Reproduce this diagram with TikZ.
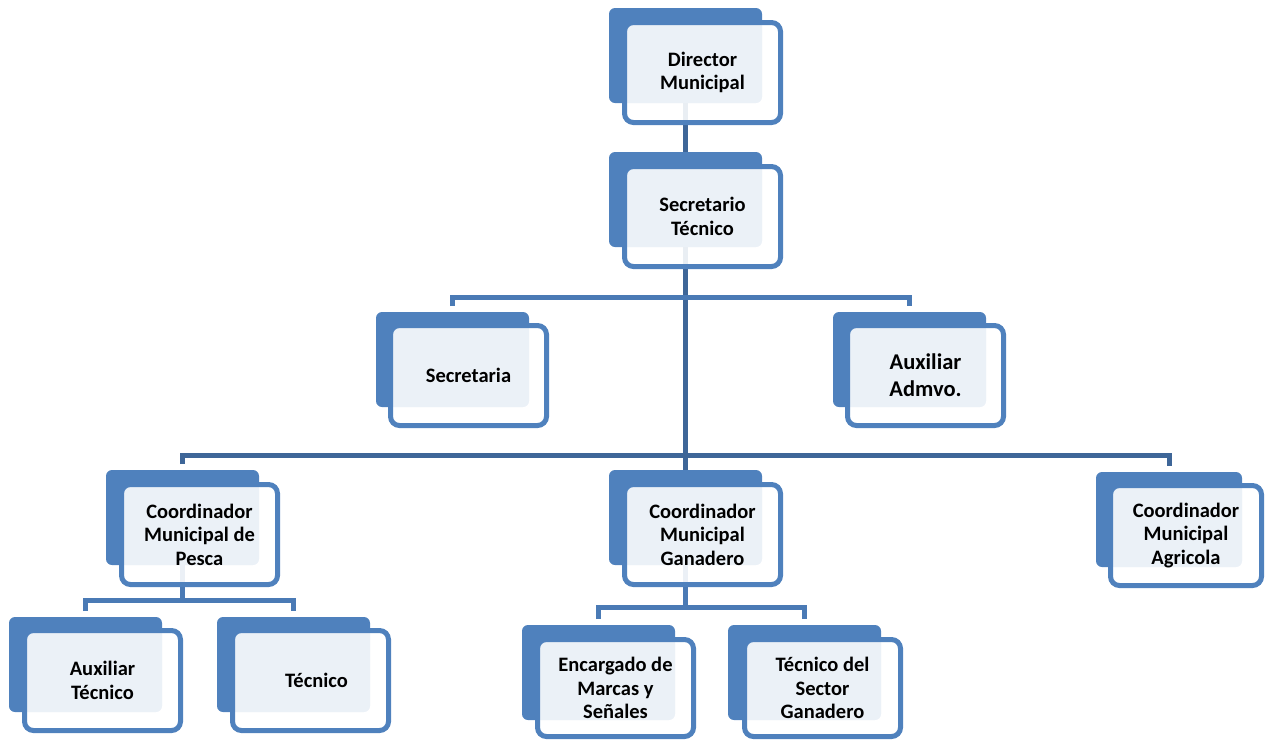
\documentclass[tikz,border=0pt]{standalone}
\usepackage{fontspec}
\setmainfont{Carlito}
\definecolor{boxblue}{HTML}{4F81BD}
\definecolor{trunkblue}{HTML}{3E6698}
\definecolor{linkblue}{HTML}{4A7AB5}
\tikzset{
  backbox/.style={fill=boxblue, rounded corners=6pt, minimum width=153pt,
    minimum height=95pt, inner sep=0pt, outer sep=0pt, anchor=north west},
  frontbox/.style={draw=boxblue, line width=5pt, fill=white, fill opacity=0.89,
    text opacity=1, rounded corners=9pt, minimum width=156pt, minimum height=100pt,
    inner sep=0pt, anchor=north west, align=center,
    font=\bfseries\fontsize{20.5}{23.5}\selectfont},
  bigtext/.style={font=\bfseries\fontsize{22.5}{27}\selectfont},
  trunk/.style={draw=trunkblue, line width=5pt},
  link/.style={draw=linkblue, line width=5pt},
  gap/.style={shorten <=6pt, shorten >=6pt},
}
\begin{document}
\begin{tikzpicture}[x=1pt, y=-1pt]
\useasboundingbox (0,0) rectangle (1267,740);

% solid back plates
\node[backbox] (dir-b)   at (609,8)   {};
\node[backbox] (sec-b)   at (609,152) {};
\node[backbox] (secr-b)  at (376,312) {};
\node[backbox] (aux-b)   at (833,312) {};
\node[backbox] (pesca-b) at (106,470) {};
\node[backbox] (gan-b)   at (609,470) {};
\node[backbox, minimum width=146pt] (agr-b) at (1096,472) {};
\node[backbox] (auxt-b)  at (9,617)   {};
\node[backbox] (tec-b)   at (217,617) {};
\node[backbox] (enc-b)   at (522,625) {};
\node[backbox] (tsg-b)   at (728,625) {};

% levels of the horizontal bars
\coordinate (lvl1) at (0,297);
\coordinate (lvl2) at (0,455);
\coordinate (lvl3) at (0,600);
\coordinate (lvl4) at (0,607);

% connectors
\draw[trunk] (dir-b) -- (sec-b);
\draw[trunk] (sec-b) -- (gan-b);
\draw[trunk, gap] (pesca-b) -- (pesca-b |- lvl2) -- (agr-b |- lvl2) -- (agr-b);
\draw[link, gap] (secr-b) -- (secr-b |- lvl1) -- (aux-b |- lvl1) -- (aux-b);
\draw[link] (pesca-b) -- (pesca-b |- lvl3);
\draw[link, gap] (auxt-b) -- (auxt-b |- lvl3) -- (tec-b |- lvl3) -- (tec-b);
\draw[link] (gan-b) -- (gan-b |- lvl4);
\draw[link, gap] (enc-b) -- (enc-b |- lvl4) -- (tsg-b |- lvl4) -- (tsg-b);

% front cards with the titles
\node[frontbox] (dir)   at (622,20)   {Director\\Municipal};
\node[frontbox] (sec)   at (622,164)  {Secretario\\Técnico};
\node[frontbox] (secr)  at (388,323)  {Secretaria};
\node[frontbox, bigtext] (aux) at (845,323) {Auxiliar\\Admvo.};
\node[frontbox] (pesca) at (119,482)  {Coordinador\\Municipal de\\Pesca};
\node[frontbox] (gan)   at (622,482)  {Coordinador\\Municipal\\Ganadero};
\node[frontbox, minimum width=151pt] (agr) at (1108,483) {Coordinador\\Municipal\\Agricola};
\node[frontbox] (auxt)  at (22,628)   {Auxiliar\\Técnico};
\node[frontbox] (tec)   at (230,628)  {\hspace*{12pt}Técnico};
\node[frontbox, minimum height=97pt] (enc) at (535,637) {Encargado de\\Marcas y\\Señales};
\node[frontbox, minimum height=97pt] (tsg) at (742,637) {Técnico del\\Sector\\Ganadero};
\end{tikzpicture}
\end{document}
